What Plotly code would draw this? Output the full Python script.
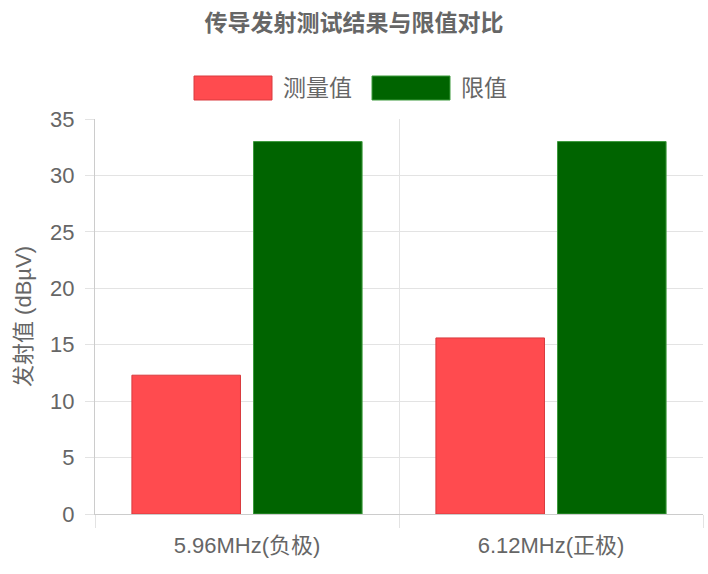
import plotly.graph_objects as go

# ---- data ----
categories = ["5.96MHz(负极)", "6.12MHz(正极)"]
measured = [12.3, 15.6]
limits = [33, 33]
series_names = ["测量值", "限值"]
y_ticks = [0, 5, 10, 15, 20, 25, 30, 35]
title_text = "传导发射测试结果与限值对比"
y_title = "发射值 (dBµV)"

# ---- styles ----
red_fill = "#ff4b4f"
red_line = "#d93a3e"
green_fill = "#006400"
green_line = "#3c9a3c"
text_color = "#666666"
grid_color = "#e3e3e3"
axis_color = "#cccccc"
FONT = "Liberation Sans, Arial, Noto Sans CJK SC, sans-serif"

W, H = 708, 574
ML, MR, MT, MB = 95, 5, 119, 60
pw, ph = W - ML - MR, H - MT - MB

fig = go.Figure()
fig.add_trace(go.Bar(x=categories, y=measured, name=series_names[0],
                     marker=dict(color=red_fill, line=dict(color=red_line, width=1))))
fig.add_trace(go.Bar(x=categories, y=limits, name=series_names[1],
                     marker=dict(color=green_fill, line=dict(color=green_line, width=1))))

def px2paper_x(px):
    return (px - ML) / pw

def px2paper_y(py):
    return (H - MB - py) / ph

# custom legend (large Chart.js-style swatches)
legend_items = [
    (series_names[0], red_fill, red_line, 194, 272, 281),
    (series_names[1], green_fill, green_line, 372, 450, 459),
]
shapes = []
annotations = []
for name, fill, line, x0, x1, tx in legend_items:
    shapes.append(dict(type="rect", xref="paper", yref="paper",
                       x0=px2paper_x(x0), x1=px2paper_x(x1),
                       y0=px2paper_y(100), y1=px2paper_y(76),
                       fillcolor=fill, line=dict(color=line, width=1)))
    annotations.append(dict(text=name, xref="paper", yref="paper",
                            x=px2paper_x(tx), y=px2paper_y(88),
                            xanchor="left", yanchor="middle", showarrow=False,
                            font=dict(size=23, color=text_color, family=FONT)))

fig.update_layout(
    width=W, height=H,
    margin=dict(l=ML, r=MR, t=MT, b=MB),
    paper_bgcolor="white", plot_bgcolor="white",
    showlegend=False,
    barmode="group", bargap=0.2, bargroupgap=0.107,
    title=dict(text="<b>" + title_text + "</b>", x=0.5, xanchor="center",
               y=1 - 23 / H, yanchor="middle",
               font=dict(size=23, color=text_color, family=FONT)),
    font=dict(family=FONT, color=text_color, size=22),
    shapes=shapes,
    annotations=annotations,
    xaxis=dict(type="category", tickson="boundaries", showgrid=True,
               gridcolor=grid_color, gridwidth=1,
               ticks="outside", ticklen=13, tickcolor=grid_color,
               ticklabelstandoff=12,
               showline=True, linecolor=axis_color, linewidth=1,
               tickfont=dict(size=22, color=text_color, family=FONT),
               range=[-0.5, 1.5], zeroline=False),
    yaxis=dict(range=[0, 35], tickvals=y_ticks, showgrid=True,
               gridcolor=grid_color, gridwidth=1,
               ticks="outside", ticklen=9, tickcolor=grid_color,
               ticklabelstandoff=6,
               showline=True, linecolor=axis_color, linewidth=1,
               zeroline=False,
               tickfont=dict(size=22, color=text_color, family=FONT),
               title=dict(text=y_title, standoff=12,
                          font=dict(size=22, color=text_color, family=FONT))),
)

fig.write_html("out.html")
